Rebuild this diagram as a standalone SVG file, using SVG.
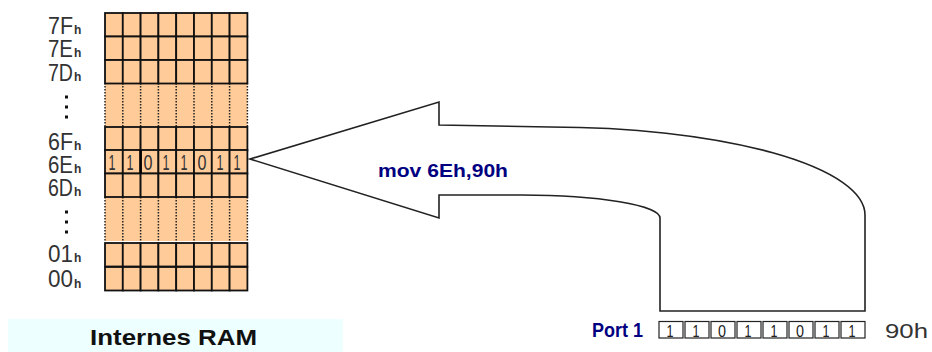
<svg xmlns="http://www.w3.org/2000/svg" width="932" height="352" viewBox="0 0 932 352">
  <style>
    .cell { fill: #FFCC99; stroke: #111; stroke-width: 1.8; }
    .gap { fill: #FFCC99; stroke: none; }
    .dot { stroke: #222; stroke-width: 1.5; stroke-dasharray: 1.5 1.5; fill: none; }
    .addr { font-family: "Liberation Sans", Arial, sans-serif; font-size: 23px; fill: #333; }
    .sub { font-family: "Liberation Sans", Arial, sans-serif; font-size: 12px; font-weight: bold; fill: #333; }
    .bit { font-family: "Liberation Sans", Arial, sans-serif; font-size: 22px; fill: #333; text-anchor: middle; }
    .pbit { font-family: "Liberation Sans", Arial, sans-serif; font-size: 17px; fill: #222; text-anchor: middle; }
    .pbox { fill: #fff; stroke: #222; stroke-width: 1.2; }
    .arrow { fill: #fff; stroke: #222; stroke-width: 1.6; stroke-linejoin: miter; }
    .blue { font-family: "Liberation Sans", Arial, sans-serif; font-weight: bold; fill: #000080; }
  </style>
  <defs>
    <!-- one row of eight memory cells, 17.8 px wide -->
    <g id="row">
      <rect class="cell" x="105" y="0" width="17.8" height="23.5"/>
      <rect class="cell" x="122.8" y="0" width="17.8" height="23.5"/>
      <rect class="cell" x="140.6" y="0" width="17.8" height="23.5"/>
      <rect class="cell" x="158.4" y="0" width="17.8" height="23.5"/>
      <rect class="cell" x="176.2" y="0" width="17.8" height="23.5"/>
      <rect class="cell" x="194" y="0" width="17.8" height="23.5"/>
      <rect class="cell" x="211.8" y="0" width="17.8" height="23.5"/>
      <rect class="cell" x="229.6" y="0" width="17.8" height="23.5"/>
    </g>
    <!-- elided block of rows: dotted column lines -->
    <g id="elided">
      <rect class="gap" x="105" y="0" width="142.4" height="44"/>
      <path class="dot" d="M105,0V44M122.8,0V44M140.6,0V44M158.4,0V44M176.2,0V44M194,0V44M211.8,0V44M229.6,0V44M247.4,0V44"/>
    </g>
    <g id="vdots" fill="#111">
      <rect x="-1.5" y="-1.5" width="3" height="3"/>
      <rect x="-1.5" y="8.5" width="3" height="3"/>
      <rect x="-1.5" y="18.5" width="3" height="3"/>
    </g>
  </defs>

  <!-- internal RAM block -->
  <g id="ram">
    <use href="#elided" y="83"/>
    <use href="#elided" y="197"/>
    <use href="#row" y="13"/>
    <use href="#row" y="36.5"/>
    <use href="#row" y="60"/>
    <use href="#row" y="127"/>
    <use href="#row" y="150"/>
    <use href="#row" y="173.5"/>
    <use href="#row" y="243"/>
    <use href="#row" y="267"/>
    <line x1="140.6" y1="150" x2="140.6" y2="173.5" stroke="#000" stroke-width="2.6"/>

    <!-- address labels -->
    <g id="addresses">
      <text class="addr" x="48" y="34" textLength="25" lengthAdjust="spacingAndGlyphs">7F</text><text class="sub" x="74" y="33.5">h</text>
      <text class="addr" x="48" y="57" textLength="25" lengthAdjust="spacingAndGlyphs">7E</text><text class="sub" x="74" y="56.5">h</text>
      <text class="addr" x="48" y="81" textLength="25" lengthAdjust="spacingAndGlyphs">7D</text><text class="sub" x="74" y="80.5">h</text>
      <text class="addr" x="48" y="150" textLength="25" lengthAdjust="spacingAndGlyphs">6F</text><text class="sub" x="74" y="149.5">h</text>
      <text class="addr" x="48" y="173" textLength="25" lengthAdjust="spacingAndGlyphs">6E</text><text class="sub" x="74" y="172.5">h</text>
      <text class="addr" x="48" y="196" textLength="25" lengthAdjust="spacingAndGlyphs">6D</text><text class="sub" x="74" y="195.5">h</text>
      <text class="addr" x="48" y="262" textLength="25" lengthAdjust="spacingAndGlyphs">01</text><text class="sub" x="74" y="262">h</text>
      <text class="addr" x="48" y="287" textLength="25" lengthAdjust="spacingAndGlyphs">00</text><text class="sub" x="74" y="288">h</text>
      <use href="#vdots" x="66.5" y="97"/>
      <use href="#vdots" x="66.5" y="212"/>
    </g>

    <!-- contents of 6Eh -->
    <g id="bits-6e">
      <text class="bit" x="112" y="170" textLength="7" lengthAdjust="spacingAndGlyphs">1</text>
      <text class="bit" x="130" y="170" textLength="7" lengthAdjust="spacingAndGlyphs">1</text>
      <text class="bit" x="148" y="170" textLength="9" lengthAdjust="spacingAndGlyphs">0</text>
      <text class="bit" x="166" y="170" textLength="7" lengthAdjust="spacingAndGlyphs">1</text>
      <text class="bit" x="184" y="170" textLength="7" lengthAdjust="spacingAndGlyphs">1</text>
      <text class="bit" x="202" y="170" textLength="9" lengthAdjust="spacingAndGlyphs">0</text>
      <text class="bit" x="220" y="170" textLength="7" lengthAdjust="spacingAndGlyphs">1</text>
      <text class="bit" x="237" y="170" textLength="7" lengthAdjust="spacingAndGlyphs">1</text>
    </g>

    <rect x="8" y="319" width="335" height="33" fill="#EEFFFF"/>
    <text x="90" y="345" font-family="'Liberation Sans', Arial, sans-serif" font-size="22" font-weight="bold" fill="#111" textLength="167" lengthAdjust="spacingAndGlyphs">Internes RAM</text>
  </g>

  <!-- port 1 register -->
  <g id="port1">
    <text class="blue" x="592" y="337" font-size="20" textLength="51" lengthAdjust="spacingAndGlyphs">Port 1</text>
    <rect class="pbox" x="659" y="321.5" width="24" height="16.5"/>
    <rect class="pbox" x="685" y="321.5" width="24" height="16.5"/>
    <rect class="pbox" x="711" y="321.5" width="24" height="16.5"/>
    <rect class="pbox" x="737" y="321.5" width="24" height="16.5"/>
    <rect class="pbox" x="763" y="321.5" width="24" height="16.5"/>
    <rect class="pbox" x="789" y="321.5" width="24" height="16.5"/>
    <rect class="pbox" x="815" y="321.5" width="24" height="16.5"/>
    <rect class="pbox" x="841" y="321.5" width="24" height="16.5"/>
    <text class="pbit" x="670" y="336.5" textLength="7" lengthAdjust="spacingAndGlyphs">1</text>
    <text class="pbit" x="696" y="336.5" textLength="7" lengthAdjust="spacingAndGlyphs">1</text>
    <text class="pbit" x="722" y="336.5" textLength="8" lengthAdjust="spacingAndGlyphs">0</text>
    <text class="pbit" x="748" y="336.5" textLength="7" lengthAdjust="spacingAndGlyphs">1</text>
    <text class="pbit" x="774" y="336.5" textLength="7" lengthAdjust="spacingAndGlyphs">1</text>
    <text class="pbit" x="800" y="336.5" textLength="8" lengthAdjust="spacingAndGlyphs">0</text>
    <text class="pbit" x="826" y="336.5" textLength="7" lengthAdjust="spacingAndGlyphs">1</text>
    <text class="pbit" x="852" y="336.5" textLength="7" lengthAdjust="spacingAndGlyphs">1</text>
    <text x="885" y="338" font-family="'Liberation Sans', Arial, sans-serif" font-size="21" fill="#333" textLength="43" lengthAdjust="spacingAndGlyphs">90h</text>
  </g>

  <!-- transfer arrow from port 1 into RAM cell 6Eh -->
  <g id="connectors">
    <path class="arrow" d="M250,159 L439,102 L439,125 L550,127 A315,88 0 0 1 865,215 L865,311 L660,311 L660,218 A138,23 0 0 0 522,195 L439,195 L439,218 Z"/>
    <text class="blue" x="378" y="177" font-size="19" textLength="130" lengthAdjust="spacingAndGlyphs">mov 6Eh,90h</text>
  </g>
</svg>
